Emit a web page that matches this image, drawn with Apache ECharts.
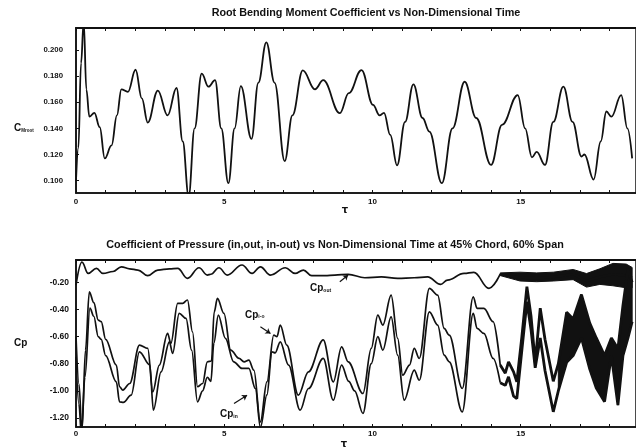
<!DOCTYPE html>
<html>
<head>
<meta charset="utf-8">
<script src="https://cdn.jsdelivr.net/npm/echarts@6/dist/echarts.min.js"></script>
<style>
  html, body { margin: 0; padding: 0; background: #fff; }
  #chart { width: 636px; height: 448px; }
</style>
</head>
<body>
<div id="chart"></div>
<script>
// axis ticks / labels
var tauTicks = [0, 1, 2, 3, 4, 5, 6, 7, 8, 9, 10, 11, 12, 13, 14, 15, 16, 17, 18];
var tauLabels = [0, 5, 10, 15];
var cmTicks = [0.100, 0.120, 0.140, 0.160, 0.180, 0.200];
var cpTicks = [-1.20, -1.00, -0.80, -0.60, -0.40, -0.20];

// root bending moment coefficient  [tau, C]
var cmRoot = [[0,0.100],[0.08,0.125],[0.17,0.19],[0.26,0.222],[0.35,0.17],[0.45,0.149],[0.62,0.152],[0.8,0.141],
  [0.97,0.117],[1.2,0.127],[1.38,0.150],[1.53,0.170],[1.75,0.168],[2.01,0.185],[2.22,0.163],[2.42,0.1445],
  [2.76,0.169],[3.09,0.150],[3.39,0.171],[3.6,0.13],[3.80,0.088],[4.0,0.14],[4.24,0.182],[4.47,0.172],
  [4.69,0.177],[4.9,0.14],[5.14,0.098],[5.35,0.14],[5.56,0.1725],[5.92,0.132],[6.15,0.175],[6.42,0.206],
  [6.7,0.175],[7.04,0.115],[7.3,0.15],[7.65,0.1845],[8.06,0.170],[8.34,0.177],[8.9,0.1517],[9.2,0.167],
  [9.63,0.1847],[10.02,0.158],[10.24,0.150],[10.39,0.152],[10.6,0.135],[10.83,0.1117],[11.1,0.145],
  [11.38,0.1738],[11.69,0.148],[11.92,0.1376],[12.34,0.098],[12.7,0.14],[13.11,0.1758],[13.5,0.148],
  [14.0,0.112],[14.37,0.1427],[14.9,0.1656],[15.15,0.14],[15.38,0.1178],[15.54,0.122],[15.82,0.112],
  [16.1,0.145],[16.44,0.172],[16.75,0.145],[17.05,0.1185],[17.15,0.12],[17.46,0.1008],[17.7,0.13],
  [17.89,0.153],[18.06,0.149],[18.39,0.1656],[18.6,0.14],[18.76,0.117]];

// pressure coefficients [tau, Cp]
var cpOut = [[0,-0.22],[0.2,-0.05],[0.41,-0.134],[0.69,-0.097],[0.91,-0.134],[1.25,-0.12],[1.53,-0.085],
  [1.81,-0.10],[2.09,-0.109],[2.42,-0.151],[2.76,-0.109],[3.15,-0.10],[3.43,-0.097],[3.76,-0.17],[4.15,-0.092],
  [4.43,-0.146],[4.55,-0.14],[4.82,-0.092],[5.10,-0.146],[5.6,-0.072],[5.94,-0.134],[6.22,-0.085],[6.56,-0.146],
  [7.06,-0.092],[7.39,-0.134],[7.67,-0.109],[7.95,-0.151],[8.4,-0.151],[8.73,-0.146],[9.18,-0.141],[9.74,-0.166],
  [10.3,-0.159],[10.85,-0.17],[11.41,-0.166],[11.86,-0.159],[12.3,-0.215],[12.53,-0.183],[13.09,-0.134],
  [13.42,-0.126],[13.93,-0.244],[14.31,-0.14],[14.98,-0.165],[15.54,-0.17],[16.1,-0.16],[16.77,-0.14],
  [17.22,-0.19],[17.67,-0.16],[18.11,-0.14],[18.56,-0.15],[18.76,-0.165]];

var cpIo = [[0,-0.60],[0.1,-0.95],[0.2,-1.30],[0.32,-0.70],[0.45,-0.27],[0.6,-0.35],[0.75,-0.478],[0.85,-0.49],
  [1.0,-0.62],[1.36,-0.81],[1.47,-0.97],[1.58,-0.995],[1.81,-0.946],[2.14,-0.663],[2.42,-0.687],[2.59,-1.008],
  [2.81,-0.81],[3.09,-0.577],[3.2,-0.65],[3.43,-0.355],[3.6,-0.355],[3.76,-0.33],[3.93,-0.565],[4.1,-0.97],
  [4.27,-0.946],[4.43,-0.786],[4.57,-0.78],[4.66,-0.42],[4.77,-0.318],[4.99,-0.429],[5.22,-0.70],[5.5,-0.761],
  [5.67,-0.786],[5.83,-0.774],[6.0,-0.848],[6.22,-1.23],[6.44,-0.934],[6.67,-0.589],[6.78,-0.60],[6.89,-0.515],
  [7.11,-0.663],[7.5,-1.032],[7.84,-0.86],[8.34,-0.624],[8.68,-0.934],[8.96,-0.676],[9.18,-0.786],[9.68,-1.02],
  [9.96,-0.687],[10.18,-0.441],[10.35,-0.515],[10.63,-0.294],[10.85,-0.613],[11.02,-0.885],[11.25,-0.81],
  [11.41,-0.687],[11.58,-0.761],[11.92,-0.244],[12.2,-0.294],[12.42,-0.54],[12.59,-0.589],[13.03,-0.983],
  [13.4,-0.306],[13.53,-0.392],[13.76,-0.392],[14.07,-0.49],[14.31,-0.81],[14.48,-0.87],[14.59,-0.786],
  [14.76,-0.86],[14.87,-0.934],[15.04,-0.6],[15.21,-0.232],[15.35,-0.45],[15.49,-0.79],[15.66,-0.39],
  [15.82,-0.62],[16.1,-0.93],[16.27,-0.80],[16.55,-0.42],[16.77,-0.47],[17.05,-0.29],[17.33,-0.50],
  [17.55,-0.61],[17.83,-0.74],[18.06,-0.61],[18.28,-0.69],[18.45,-0.37],[18.62,-0.10],[18.76,-0.20]];

var cpIn = [[0,-0.75],[0.1,-1.10],[0.18,-1.32],[0.3,-0.90],[0.47,-0.39],[0.6,-0.45],[0.75,-0.60],[0.85,-0.62],
  [1.0,-0.74],[1.36,-0.934],[1.47,-1.082],[1.6,-1.085],[1.86,-1.032],[2.14,-0.713],[2.49,-0.81],[2.61,-1.143],
  [2.87,-0.86],[3.15,-0.639],[3.26,-0.724],[3.48,-0.429],[3.71,-0.466],[3.9,-0.70],[4.1,-1.082],[4.27,-1.0],
  [4.43,-0.90],[4.55,-0.93],[4.65,-0.65],[4.8,-0.441],[5.04,-0.613],[5.32,-0.786],[5.6,-0.835],[5.83,-0.835],
  [6.05,-0.983],[6.22,-1.27],[6.44,-1.03],[6.61,-0.713],[6.72,-0.72],[6.89,-0.639],[7.17,-0.81],[7.56,-1.143],
  [7.84,-0.983],[8.34,-0.761],[8.68,-1.069],[8.96,-0.81],[9.2,-0.93],[9.4,-1.0],[9.68,-1.167],[9.96,-0.80],
  [10.18,-0.60],[10.35,-0.70],[10.63,-0.454],[10.85,-0.737],[11.07,-1.069],[11.41,-0.848],[11.58,-0.922],
  [11.92,-0.417],[12.2,-0.515],[12.42,-0.737],[12.59,-0.786],[13.03,-1.155],[13.4,-0.429],[13.53,-0.54],
  [13.76,-0.577],[14.07,-0.761],[14.31,-0.94],[14.48,-0.96],[14.59,-0.897],[14.76,-1.04],[14.87,-1.057],
  [15.04,-0.70],[15.21,-0.343],[15.35,-0.55],[15.49,-0.83],[15.66,-0.61],[15.82,-0.85],[16.1,-1.155],
  [16.27,-1.0],[16.55,-0.79],[16.77,-0.74],[17.05,-0.61],[17.33,-0.84],[17.55,-0.98],[17.83,-1.08],
  [18.06,-0.74],[18.28,-1.106],[18.45,-0.74],[18.62,-0.61],[18.76,-0.49]];

// noisy envelope of Cp_out late in the run
var outNoiseTau = [14.31, 14.98, 15.54, 16.1, 16.77, 17.22, 17.67, 18.11, 18.56, 18.76];
var outNoiseHi = [-0.13, -0.125, -0.13, -0.125, -0.105, -0.135, -0.10, -0.06, -0.065, -0.09];
var outNoiseLo = [-0.15, -0.19, -0.195, -0.19, -0.18, -0.235, -0.215, -0.225, -0.24, -0.24];

var noiseStart = 14.31;   // where the lines start to get fuzzy
var bandStart = 16.27;    // where in / in-out merge into one black band

var dom = document.getElementById("chart");
var myChart = echarts.init(dom, null, { renderer: 'canvas' });

var FONT = 'Liberation Sans';
var INK = '#111';

function before(d, t) { return d.filter(function (p) { return p[0] <= t; }); }
function after(d, t) { return d.filter(function (p) { return p[0] >= t; }); }

var outBandPts = outNoiseTau.map(function (t, i) { return [t, outNoiseHi[i]]; })
  .concat(outNoiseTau.map(function (t, i) { return [t, outNoiseLo[i]]; }).reverse());
var pairBandPts = after(cpIo, bandStart).concat(after(cpIn, bandStart).reverse());

function polySeries(pts, gi) {
  return {
    type: 'custom', xAxisIndex: gi * 2, yAxisIndex: gi, silent: true,
    data: [pts[0]],
    renderItem: function (params, api) {
      return {
        type: 'polygon',
        shape: { points: pts.map(function (p) { return api.coord(p); }) },
        style: { fill: INK, stroke: INK, lineWidth: 1 }
      };
    },
    z: 3
  };
}

function lineSeries(data, gi, width, smooth) {
  return {
    type: 'line', xAxisIndex: gi * 2, yAxisIndex: gi, data: data,
    showSymbol: false, smooth: smooth, smoothMonotone: 'x', clip: true, silent: true,
    lineStyle: { color: INK, width: width }
  };
}

function xAxes(gi, labelMargin) {
  var base = {
    type: 'value', gridIndex: gi, min: 0, max: 18.89,
    axisLine: { lineStyle: { color: INK, width: 1.6 } },
    axisTick: { inside: true, length: 3, customValues: tauTicks, lineStyle: { color: INK } },
    splitLine: { show: false }
  };
  var bottom = echarts.util.merge({
    position: 'bottom',
    axisLabel: { customValues: tauLabels, margin: labelMargin, color: INK, fontFamily: FONT, fontWeight: 'bold', fontSize: 8 }
  }, base, true);
  var top = echarts.util.merge({ position: 'top', axisLabel: { show: false } }, base, true);
  top.axisLine.lineStyle.width = 2;
  return [bottom, top];
}

option = {
  backgroundColor: '#fff',
  animation: false,
  grid: [
    { left: 76, top: 28, right: -4, height: 165, show: true, borderColor: INK, borderWidth: 1.5, containLabel: false },
    { left: 76, top: 260, right: -4, height: 167, show: true, borderColor: INK, borderWidth: 1.5, containLabel: false }
  ],
  xAxis: xAxes(0, 5).concat(xAxes(1, 3)),
  yAxis: [
    {
      type: 'value', gridIndex: 0, min: 0.0905, max: 0.217,
      axisLine: { lineStyle: { color: INK, width: 1.6 } },
      axisTick: { inside: true, length: 3, customValues: cmTicks, lineStyle: { color: INK } },
      axisLabel: {
        customValues: cmTicks, margin: 13, color: INK, fontFamily: FONT, fontWeight: 'bold', fontSize: 7.8,
        formatter: function (v) { return v.toFixed(3); }
      },
      splitLine: { show: false }
    },
    {
      type: 'value', gridIndex: 1, min: -1.267, max: -0.035,
      axisLine: { lineStyle: { color: INK, width: 1.6 } },
      axisTick: { inside: true, length: 3, customValues: cpTicks, lineStyle: { color: INK } },
      axisLabel: {
        customValues: cpTicks, margin: 7, color: INK, fontFamily: FONT, fontWeight: 'bold', fontSize: 8.5,
        formatter: function (v) { return v.toFixed(2); }
      },
      splitLine: { show: false }
    }
  ],
  series: [
    lineSeries(cmRoot, 0, 1.8, 0.4),
    lineSeries(before(cpOut, noiseStart), 1, 1.7, 0.4),
    lineSeries(after(cpOut, noiseStart), 1, 2.5, false),
    lineSeries(before(cpIo, noiseStart), 1, 1.7, 0.35),
    lineSeries(after(cpIo, noiseStart), 1, 2.8, false),
    lineSeries(before(cpIn, noiseStart), 1, 1.7, 0.35),
    lineSeries(after(cpIn, noiseStart), 1, 2.8, false),
    polySeries(outBandPts, 1),
    polySeries(pairBandPts, 1),
    {
      // annotation arrows, in data coordinates
      type: 'line', xAxisIndex: 2, yAxisIndex: 1, data: [], silent: true,
      markLine: {
        silent: true, symbol: ['none', 'arrow'], symbolSize: 5,
        label: { show: false },
        lineStyle: { color: INK, width: 1.2, type: 'solid' },
        data: [
          [{ coord: [8.9, -0.196] }, { coord: [9.18, -0.146] }],
          [{ coord: [6.22, -0.528] }, { coord: [6.56, -0.577] }],
          [{ coord: [5.33, -1.094] }, { coord: [5.77, -1.032] }]
        ]
      }
    }
  ],
  graphic: [
    { type: 'text', x: 366, y: 13, style: { text: 'Root Bending Moment Coefficient vs Non-Dimensional Time',
      fill: INK, font: 'bold 10.8px "Liberation Sans"', align: 'center', verticalAlign: 'middle' } },
    { type: 'text', x: 335, y: 245, style: { text: 'Coefficient of Pressure (in,out, in-out) vs Non-Dimensional Time at 45% Chord, 60% Span',
      fill: INK, font: 'bold 10.8px "Liberation Sans"', align: 'center', verticalAlign: 'middle' } },
    { type: 'text', x: 14, y: 128, style: { text: '{c|C}{s|Mroot}', verticalAlign: 'middle', fill: INK,
      rich: { c: { fontFamily: FONT, fontWeight: 'bold', fontSize: 10 },
              s: { fontFamily: FONT, fontWeight: 'bold', fontSize: 4.5, padding: [5, 0, 0, 0] } } } },
    { type: 'text', x: 14, y: 343, style: { text: 'Cp', fill: INK, font: 'bold 10px "Liberation Sans"', verticalAlign: 'middle' } },
    { type: 'text', x: 345, y: 210, style: { text: 'τ', fill: INK, font: 'bold 10px "DejaVu Sans"', align: 'center', verticalAlign: 'middle' } },
    { type: 'text', x: 344, y: 444, style: { text: 'τ', fill: INK, font: 'bold 10px "DejaVu Sans"', align: 'center', verticalAlign: 'middle' } },
    { type: 'text', x: 310, y: 288, style: { text: '{c|Cp}{s|out}', verticalAlign: 'middle', fill: INK,
      rich: { c: { fontFamily: FONT, fontWeight: 'bold', fontSize: 10 },
              s: { fontFamily: FONT, fontWeight: 'bold', fontSize: 5, padding: [5, 0, 0, 0] } } } },
    { type: 'text', x: 245, y: 315, style: { text: '{c|Cp}{s|i-o}', verticalAlign: 'middle', fill: INK,
      rich: { c: { fontFamily: FONT, fontWeight: 'bold', fontSize: 10 },
              s: { fontFamily: FONT, fontWeight: 'bold', fontSize: 5, padding: [4, 0, 0, 0] } } } },
    { type: 'text', x: 220, y: 414, style: { text: '{c|Cp}{s|in}', verticalAlign: 'middle', fill: INK,
      rich: { c: { fontFamily: FONT, fontWeight: 'bold', fontSize: 10 },
              s: { fontFamily: FONT, fontWeight: 'bold', fontSize: 5, padding: [5, 0, 0, 0] } } } }
  ]
};

if (option && typeof option === "object") {
  myChart.setOption(option, true);
}
</script>
</body>
</html>
